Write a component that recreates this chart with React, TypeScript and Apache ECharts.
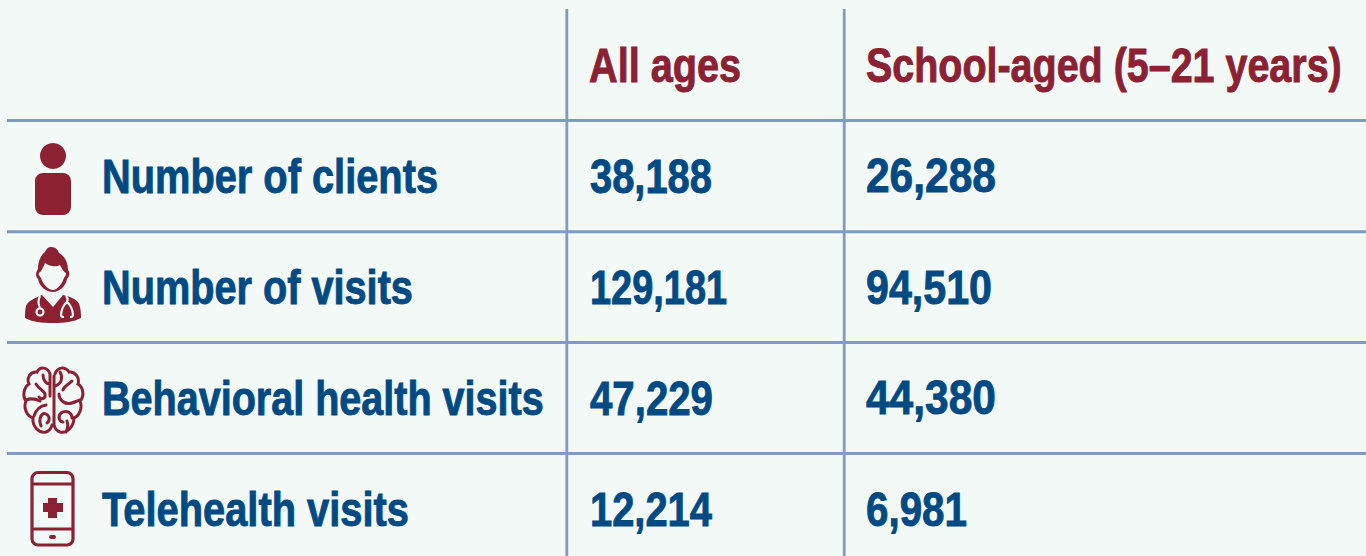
import React, { useEffect, useRef } from "react";
import * as echarts from "echarts";

const headers = ["All ages", "School-aged (5–21 years)"];
const rowLabels = ["Number of clients", "Number of visits", "Behavioral health visits", "Telehealth visits"];
const allAges = ["38,188", "129,181", "47,229", "12,214"];
const schoolAged = ["26,288", "94,510", "44,380", "6,981"];

const headerRight = [741, 1342];
const labelRight = [438, 413, 544, 409];
const allAgesRight = [712, 727, 713, 712];
const schoolRight = [996, 992, 996, 967];

const BG = "#F3F9F7";
const RED = "#8B2133";
const BLUE = "#004A84";
const LINE = "#7F9BC4";
const FONT = '"Liberation Sans", sans-serif';
const FONT_CSS = `bold 48px ${FONT}`;

const hLines = [120.5, 231.7, 342.6, 453.5];
const vLines = [566.8, 844.2];
const rowMid = [176, 287, 398, 509];

const personD =
  "M53 143a13 13 0 1 1 -0.01 0z M43 173h20a8 8 0 0 1 8 8v26a8 8 0 0 1 -8 8h-20a8 8 0 0 1 -8 -8v-26a8 8 0 0 1 8 -8z";
const doctorHairD =
  "M51 247C56 247 58 250 59 253C65 256 68 263 68 270C70 272 70 276 67 279C66 286 59 292 53 292C46 292 39 286 38 279C35 276 36 272 38 269C38 260 42 254 45 252C46 249 48 247 51 247Z";
const doctorFaceD =
  "M45 263C50 267 57 267 60 265C62 269 64 272 66 273C66 276 65 276 64 278C62 284 57 290 53 290C48 290 43 284 41 278C40 276 38 275 39 273C41 272 43 268 45 263Z";
const doctorBodyD =
  "M42 295L53 307L63 295C70 297 79 299 80 307C81 312 81 316 81 318C74 322 64 323 53 323C42 323 32 322 25 318C25 314 25 310 26 306C28 300 36 298 42 295Z";
const doctorScopeD =
  "M40 296C38 300 38 304 40 308M43.5 312a3.5 3.5 0 1 1 -7 0a3.5 3.5 0 1 1 7 0" +
  "M66 296C68 298 68 300 67 302C64 304 61 310 61 315C61 317 63 317 64 317M67 302C70 304 73 310 73 315C73 317 71 317 70 317";
const brainD =
  "M50 374C48 367 40 366 37 372C31 371 26 378 29 384C24 387 22 396 26 401C23 408 27 416 33 418C32 426 39 434 46 432C49 431 51 429 52 425" +
  "M55 374C57 367 65 366 69 372C75 371 80 378 78 384C83 387 85 396 80 401C83 408 79 416 74 418C74 426 67 434 60 432C57 431 55 429 54 425" +
  "M50 374V396M54 376V425" +
  "M43 375C43 380 46 384 50 384M36 384C39 389 43 390 45 394C46 399 41 400 39 397M26 400C31 398 36 399 40 401" +
  "M34 416C36 410 39 406 46 405M41 426C38 418 42 412 46 414C50 416 50 421 47 423" +
  "M60 372C63 377 62 384 55 386M72 381C68 385 64 386 63 390M59 394C59 401 66 405 72 403C75 402 77 401 80 400" +
  "M72 418C72 412 66 410 61 413C57 417 60 422 63 422M66 432C68 428 68 424 67 421";
const phoneFrameD =
  "M38 472.5H67a6 6 0 0 1 6 6V539a6 6 0 0 1 -6 6H38a6 6 0 0 1 -6 -6V478.5a6 6 0 0 1 6 -6zM32 484H73M32 529H73";
const phoneFillD =
  "M48 498H57V503H63V512H57V518H48V512H43V503H48Z M51 535H54a2 2 0 0 1 0 4H51a2 2 0 0 1 0 -4z";

echarts.graphic.registerShape("personIcon", echarts.graphic.extendPath(personD, {}));
echarts.graphic.registerShape("docHair", echarts.graphic.extendPath(doctorHairD, {}));
echarts.graphic.registerShape("docFace", echarts.graphic.extendPath(doctorFaceD, {}));
echarts.graphic.registerShape("docBody", echarts.graphic.extendPath(doctorBodyD, {}));
echarts.graphic.registerShape("docScope", echarts.graphic.extendPath(doctorScopeD, {}));
echarts.graphic.registerShape("brainIcon", echarts.graphic.extendPath(brainD, {}));
echarts.graphic.registerShape("phoneFrame", echarts.graphic.extendPath(phoneFrameD, {}));
echarts.graphic.registerShape("phoneFill", echarts.graphic.extendPath(phoneFillD, {}));

const ctx = document.createElement("canvas").getContext("2d")!;
ctx.font = FONT_CSS;

const txt = (text: string, x: number, right: number, y: number, fill: string) => ({
  type: "text",
  x,
  y,
  scaleX: (right - x) / ctx.measureText(text).width,
  style: {
    text,
    fill,
    font: FONT_CSS,
    align: "left",
    verticalAlign: "middle",
    stroke: fill,
    lineWidth: 0.9,
  },
});

export default function App() {
  const ref = useRef<HTMLDivElement>(null);
  useEffect(() => {
    const chart = echarts.init(ref.current!, undefined, { renderer: "svg" });
    const elements: any[] = [];
    hLines.forEach((y) =>
      elements.push({ type: "line", shape: { x1: 7, y1: y, x2: 1366, y2: y }, style: { stroke: LINE, lineWidth: 3 } })
    );
    vLines.forEach((x) =>
      elements.push({ type: "line", shape: { x1: x, y1: 9, x2: x, y2: 556 }, style: { stroke: LINE, lineWidth: 2.8 } })
    );
    elements.push(txt(headers[0], 589, headerRight[0], 65, RED), txt(headers[1], 866, headerRight[1], 65, RED));
    rowLabels.forEach((l, i) => {
      elements.push(txt(l, 102, labelRight[i], rowMid[i], BLUE));
      elements.push(txt(allAges[i], 590, allAgesRight[i], rowMid[i], BLUE));
      elements.push(txt(schoolAged[i], 866, schoolRight[i], rowMid[i], BLUE));
    });
    elements.push(
      { type: "personIcon", style: { fill: RED } },
      { type: "docHair", style: { fill: RED } },
      { type: "docFace", style: { fill: BG } },
      { type: "docBody", style: { fill: RED } },
      { type: "docScope", style: { fill: "none", stroke: BG, lineWidth: 2.2 } },
      { type: "brainIcon", style: { fill: "none", stroke: RED, lineWidth: 3, lineCap: "round" } },
      { type: "phoneFrame", style: { fill: "none", stroke: RED, lineWidth: 3.2 } },
      { type: "phoneFill", style: { fill: RED } }
    );
    chart.setOption({ animation: false, backgroundColor: BG, graphic: { elements } });
    return () => chart.dispose();
  }, []);
  return <div ref={ref} style={{ position: "fixed", left: 0, top: 0, width: 1366, height: 556 }} />;
}
